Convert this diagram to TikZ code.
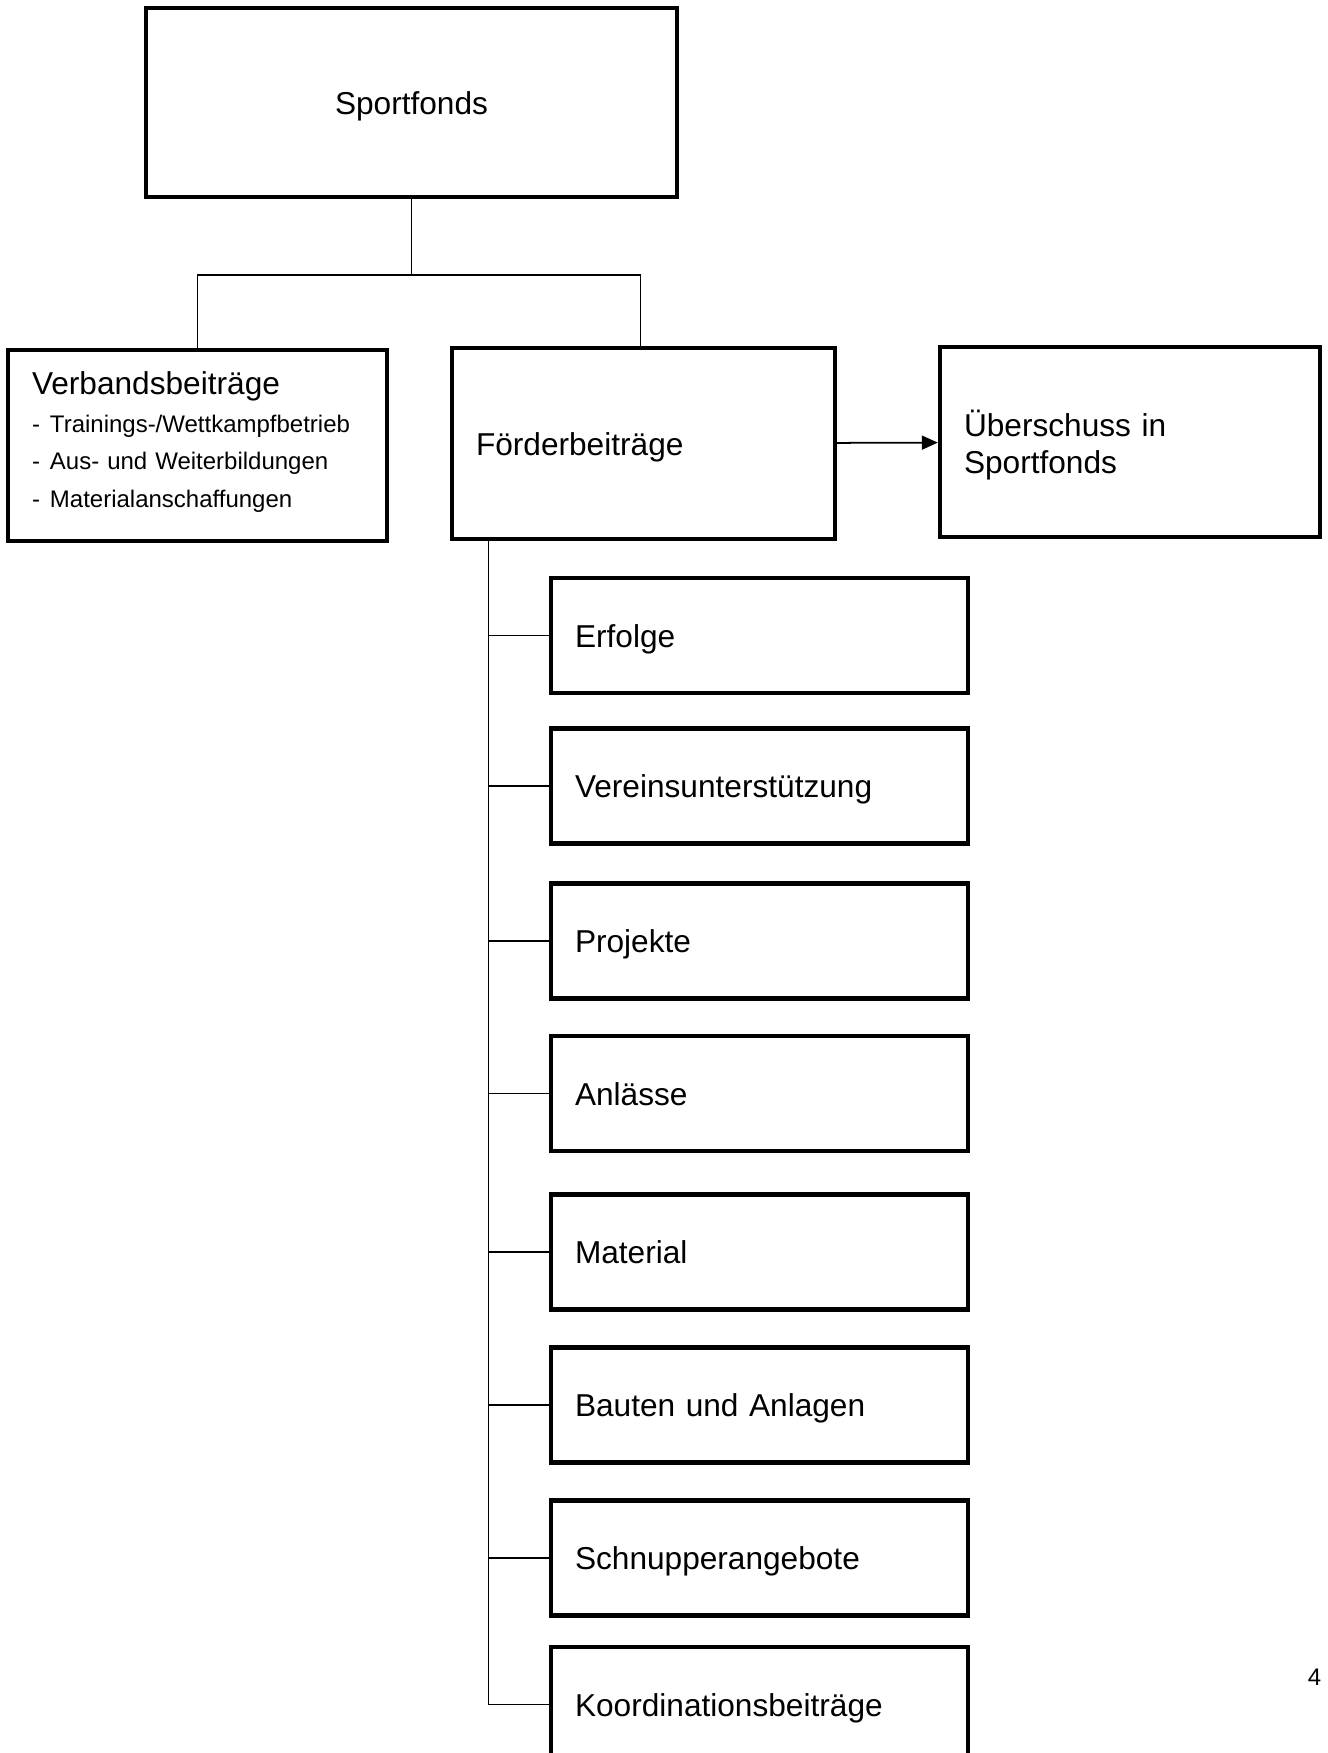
\documentclass[tikz,border=0pt]{standalone}
\usepackage{fontspec}
\setmainfont{Liberation Sans}
\usetikzlibrary{arrows.meta}

\begin{document}
\begin{tikzpicture}[
  fondsbox/.style={draw, line width=2.5pt, inner xsep=0.48cm, align=left, font=\fontsize{18}{21}\selectfont},
  oneline/.style={text height=13.2pt, text depth=0pt},
  listfont/.style={font=\fontsize{13.65}{21.4}\selectfont},
  link/.style={line width=1pt},
]
\useasboundingbox (0,0) rectangle (26.56,-35.06);
% top
\node [fondsbox, oneline, align=center, minimum width=10.62cm, minimum height=3.78cm] (sportfonds) at (8.23,-2.05) {Sportfonds};
% second row
\node [fondsbox, listfont, text width=6.62cm, minimum height=3.82cm] (verband) at (3.95,-8.91)
  {{\fontsize{18}{21.4}\selectfont Verbandsbeiträge}\\
   \makebox[0.36cm][l]{-}Trainings-/Wettkampfbetrieb\\
   \makebox[0.36cm][l]{-}Aus- und Weiterbildungen\\
   \makebox[0.36cm][l]{-}Materialanschaffungen\rule[-6.7pt]{0pt}{0pt}};
\node [fondsbox, oneline, text width=6.7cm, minimum height=3.82cm] (foerder) at (12.87,-8.87) {Förderbeiträge};
\node [fondsbox, text width=6.64cm, minimum height=3.8cm] (ueberschuss) at (22.6,-8.84) {\rule{0pt}{18.5pt}Überschuss in\\Sportfonds};
% links
\coordinate (split) at (8.23,-5.5);
\draw [link] (sportfonds) -- (split);
\draw [link] (verband.north) |- (split) -| ([xshift=-0.06cm]foerder.north);
\draw [link, -{Triangle[length=0.32cm, width=0.28cm]}] (foerder) -- (ueberschuss);
% children
\coordinate (trunk) at (9.77,0 |- foerder.south);
\foreach \name/\y/\txt in {erfolge/-12.71/Erfolge, verein/-15.72/Vereinsunterstützung,
    projekte/-18.82/Projekte, anlaesse/-21.87/Anlässe, material/-25.04/Material,
    bauten/-28.1/Bauten und Anlagen, schnupper/-31.16/Schnupperangebote,
    koordination/-34.09/Koordinationsbeiträge} {
  \node [fondsbox, oneline, text width=7.38cm, minimum height=2.3cm] (\name) at (15.19,\y) {\txt};
  \draw [link] (trunk) |- (\name.west);
}
% page number
\node [listfont] (pagenum) at (26.29,-33.54) {4};
\end{tikzpicture}
\end{document}
